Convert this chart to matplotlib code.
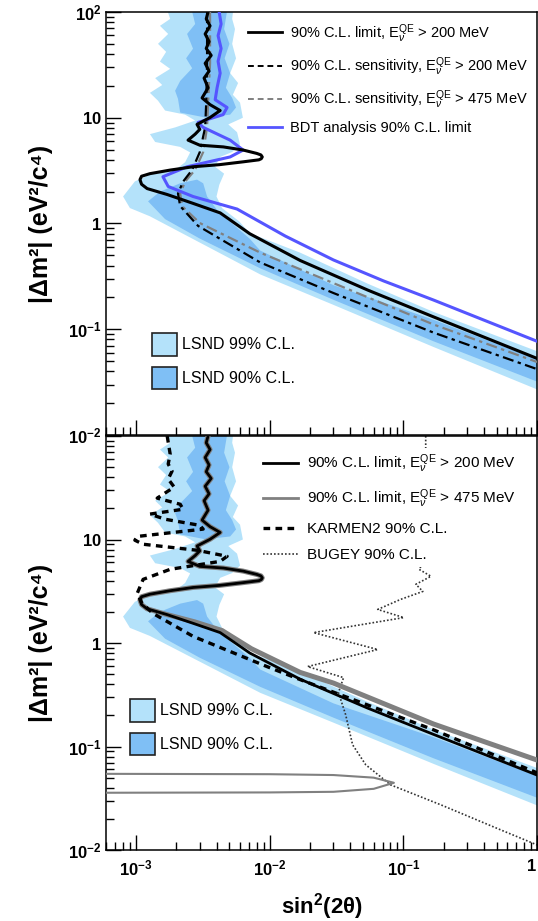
import matplotlib.pyplot as plt
from matplotlib import font_manager
from matplotlib.patches import Patch
from matplotlib.lines import Line2D
from matplotlib.ticker import FixedLocator, FuncFormatter, LogLocator, NullFormatter

plt.rcParams['font.family'] = ['Liberation Sans', 'DejaVu Sans']
plt.rcParams['mathtext.fontset'] = 'custom'
plt.rcParams['mathtext.rm'] = 'Liberation Sans'
plt.rcParams['mathtext.it'] = 'Liberation Sans:italic'
plt.rcParams['mathtext.bf'] = 'Liberation Sans:bold'

# narrow face for the tall axis titles, if the system has it
try:
    font_manager.findfont('Liberation Sans Narrow', fallback_to_default=False)
    ylab_family, ylab_size = ['Liberation Sans Narrow', 'DejaVu Sans'], 20
except ValueError:
    ylab_family, ylab_size = ['Liberation Sans', 'DejaVu Sans'], 18

# ---- LSND allowed regions (sin^2 2theta, dm^2) ----
lsnd99_x = [1.65e-3, 1.80e-3, 1.51e-3, 1.74e-3, 1.46e-3, 1.68e-3, 1.51e-3, 1.80e-3, 1.39e-3,
            1.57e-3, 1.27e-3, 1.46e-3, 1.65e-3, 2.33e-3, 2.77e-3, 1.96e-3, 1.27e-3, 1.39e-3,
            2.14e-3, 2.54e-3, 2.33e-3, 1.96e-3, 1.27e-3, 9.8e-4, 8.0e-4, 9.0e-4, 1.27e-3,
            3.0e-3, 8.5e-3, 0.030, 0.168, 1.0, 1.0, 0.168, 0.054, 0.0169, 7.1e-3, 5.9e-3,
            4.4e-3, 4.0e-3, 4.2e-3, 4.56e-3, 3.9e-3, 4.26e-3, 5.24e-3, 6.0e-3, 5.7e-3, 4.9e-3,
            6.3e-3, 6.0e-3, 5.3e-3, 5.8e-3, 5.06e-3, 5.6e-3, 5.24e-3, 5.5e-3, 5.24e-3, 5.4e-3]
lsnd99_y = [120, 86, 74, 62, 50, 42, 34, 29, 23.7,
            20.4, 17.2, 14.5, 11.7, 10.7, 9.4, 8.1, 7.0, 5.9,
            5.3, 4.7, 3.8, 3.2, 2.9, 2.5, 1.8, 1.4, 1.17,
            0.66, 0.33, 0.17, 0.068, 0.027, 0.062, 0.146, 0.27, 0.53, 0.81, 1.05,
            1.40, 1.8, 2.33, 2.96, 3.44, 4.26, 4.74, 5.6, 7.3, 8.65,
            10.0, 13.9, 16.5, 21.3, 26.4, 36.5, 50, 69, 86, 120]

lsnd90_hi_x = [2.54e-3, 2.77e-3, 2.41e-3, 2.67e-3, 2.37e-3, 2.63e-3, 2.14e-3, 1.96e-3, 2.06e-3,
               2.14e-3, 3.3e-3, 5.06e-3, 5.6e-3, 5.24e-3, 4.7e-3, 5.06e-3, 4.6e-3, 5.0e-3,
               4.56e-3, 4.9e-3]
lsnd90_hi_y = [120, 77, 62, 45, 36.5, 29.4, 22.3, 18.0, 15.1,
               11.2, 10.05, 10.7, 12.5, 15.4, 19.2, 26.4, 36.5, 50,
               69, 120]

lsnd90_lo_x = [1.23e-3, 1.51e-3, 2.14e-3, 2.86e-3, 3.18e-3, 3.4e-3, 4.1e-3, 7.1e-3, 8.5e-3,
               0.030, 0.168, 1.0, 1.0, 0.168, 0.030, 8.5e-3, 3.0e-3, 1.65e-3]
lsnd90_lo_y = [1.62, 2.0, 2.4, 2.6, 2.4, 1.8, 1.31, 0.716, 0.554,
               0.261, 0.123, 0.052, 0.032, 0.077, 0.19, 0.377, 0.72, 1.10]

# ---- MiniBooNE curves ----
limit200_x = [3.46e-3, 3.35e-3, 3.58e-3, 3.29e-3, 3.52e-3, 3.35e-3, 3.65e-3, 3.29e-3, 3.52e-3,
              3.23e-3, 3.46e-3, 3.12e-3, 3.58e-3, 4.26e-3, 3.58e-3, 2.86e-3, 3.0e-3, 2.77e-3,
              2.45e-3, 3.0e-3, 4.5e-3, 6.33e-3, 8.0e-3, 8.6e-3, 8.8e-3, 8.65e-3, 8.3e-3,
              6.33e-3, 4.2e-3, 2.67e-3, 1.8e-3, 1.27e-3, 1.1e-3, 1.07e-3, 1.1e-3, 1.21e-3,
              1.71e-3, 2.67e-3, 4.26e-3, 7.1e-3, 0.0169, 0.054, 0.168, 1.0]
limit200_y = [100, 86, 74, 62, 52.5, 45.2, 38.9, 32.7, 27.6,
              23.7, 19.2, 15.4, 13.3, 11.7, 10.05, 8.65, 7.77, 7.0,
              6.14, 5.5, 5.3, 4.95, 4.6, 4.45, 4.26, 4.1, 4.0,
              3.83, 3.6, 3.44, 3.2, 2.96, 2.8, 2.6, 2.35, 2.14,
              1.88, 1.55, 1.26, 0.80, 0.447, 0.235, 0.131, 0.053]

sens200_x = [3.40e-3, 3.40e-3, 3.35e-3, 3.29e-3, 3.0e-3, 2.63e-3, 2.25e-3, 2.06e-3, 2.14e-3,
             2.91e-3, 8.5e-3, 0.030, 0.168, 1.0]
sens200_y = [100, 32.7, 13.9, 8.11, 4.74, 3.22, 2.49, 1.92, 1.46,
             0.95, 0.428, 0.22, 0.093, 0.042]

sens475_x = [3.58e-3, 3.58e-3, 3.46e-3, 3.40e-3, 3.18e-3, 2.77e-3, 2.33e-3, 2.14e-3, 2.21e-3,
             3.0e-3, 8.5e-3, 0.030, 0.168, 1.0]
sens475_y = [100, 32.7, 13.9, 8.11, 4.74, 3.22, 2.49, 1.92, 1.46,
             1.01, 0.53, 0.273, 0.111, 0.049]

bdt_x = [4.19e-3, 4.33e-3, 4.11e-3, 4.33e-3, 4.11e-3, 4.26e-3, 4.04e-3, 3.91e-3, 4.8e-3,
         4.48e-3, 2.91e-3, 3.18e-3, 5.06e-3, 6.33e-3, 5.06e-3, 2.41e-3, 1.59e-3, 1.74e-3,
         2.67e-3, 5.7e-3, 0.0131, 0.030, 0.0713, 0.168, 1.0]
bdt_y = [100, 77, 59.7, 45.2, 34.2, 26.4, 19.2, 14.8, 12.5,
         10.7, 9.03, 8.11, 6.14, 4.95, 4.26, 3.44, 2.77, 2.24,
         1.80, 1.37, 0.76, 0.452, 0.286, 0.189, 0.077]

# E > 475 MeV limit: follows the 200 MeV limit above ~2 eV^2
limit475_x = limit200_x[:37] + [2.75e-3, 4.4e-3, 7.3e-3, 0.0169, 0.030, 0.168, 1.0]
limit475_y = limit200_y[:37] + [1.60, 1.32, 0.88, 0.52, 0.41, 0.165, 0.074]
island475_x = [4e-4, 0.010, 0.030, 0.060, 0.085, 0.060, 0.030, 0.010, 4e-4]
island475_y = [0.0545, 0.054, 0.053, 0.050, 0.0446, 0.039, 0.0365, 0.036, 0.0357]

# ---- other experiments ----
karmen_x = [1.71e-3, 1.80e-3, 1.74e-3, 1.86e-3, 1.74e-3, 1.93e-3, 1.44e-3, 2.14e-3, 2.25e-3,
            1.27e-3, 1.65e-3, 3.0e-3, 3.18e-3, 1.02e-3, 9.8e-4, 1.13e-3, 2.86e-3, 4.8e-3,
            4.26e-3, 1.80e-3, 1.13e-3, 1.02e-3, 1.11e-3, 1.34e-3, 2.67e-3, 9.6e-3, 0.0169,
            0.168, 1.0]
karmen_y = [100, 67, 53.6, 45.8, 38.4, 32.1, 25.1, 21.9, 19.6,
            17.6, 15.7, 13.7, 12.6, 10.7, 9.84, 9.0, 7.87, 6.88,
            6.15, 5.15, 4.12, 3.01, 2.41, 1.93, 1.16, 0.59, 0.443,
            0.145, 0.0557]

bugey_x = [0.147, 0.147, 0.131, 0.161, 0.124, 0.140, 0.0955, 0.0643, 0.1007, 0.0213,
           0.0643, 0.0192, 0.0357, 0.0327, 0.037, 0.0417, 0.0523, 0.0803, 0.191, 0.538, 1.0]
bugey_y = [100, 6.44, 5.15, 4.41, 3.69, 3.15, 2.64, 2.11, 1.76, 1.26,
           0.865, 0.592, 0.463, 0.332, 0.203, 0.104, 0.0666, 0.0426, 0.0273, 0.0156, 0.0112]

light_blue = '#b4e2fa'
mid_blue = '#7fbff5'
bdt_blue = '#5555ff'
grey = '#808080'

E_lab = r'$\mathrm{E}_{\nu}^{\mathrm{QE}}$'
ylab_text = '|\u0394m\u00b2| (eV\u00b2/c\u2074)'


def tick_label(v, pos):
    if v >= 100:
        return r'$\mathbf{10^2}$'
    if v >= 10:
        return r'$\mathbf{10}$'
    if v >= 1:
        return r'$\mathbf{1}$'
    if v >= 0.1:
        return r'$\mathbf{10^{-1}}$'
    if v >= 0.01:
        return r'$\mathbf{10^{-2}}$'
    return r'$\mathbf{10^{-3}}$'


def style_axes(ax):
    ax.set_xscale('log')
    ax.set_yscale('log')
    ax.set_xlim(5.96e-4, 1.0)
    ax.set_ylim(0.01, 100)
    ax.xaxis.set_major_locator(FixedLocator([1e-3, 1e-2, 1e-1, 1.0]))
    ax.xaxis.set_minor_locator(LogLocator(base=10, subs=range(2, 10)))
    ax.yaxis.set_major_locator(FixedLocator([0.01, 0.1, 1, 10, 100]))
    ax.yaxis.set_minor_locator(LogLocator(base=10, subs=range(2, 10)))
    ax.xaxis.set_minor_formatter(NullFormatter())
    ax.yaxis.set_minor_formatter(NullFormatter())
    ax.tick_params(which='both', direction='in', top=False, right=False, width=1.0)
    ax.tick_params(which='major', length=11, labelsize=12, pad=3)
    ax.tick_params(which='minor', length=6)
    for s in ax.spines.values():
        s.set_linewidth(1.1)


def draw_lsnd(ax):
    ax.fill(lsnd99_x, lsnd99_y, color=light_blue, lw=0, zorder=1)
    ax.fill(lsnd90_hi_x, lsnd90_hi_y, color=mid_blue, lw=0, zorder=1.1)
    ax.fill(lsnd90_lo_x, lsnd90_lo_y, color=mid_blue, lw=0, zorder=1.1)


def lsnd_legend(ax, anchor):
    handles = [Patch(facecolor=light_blue, edgecolor='#222222', lw=1.2),
               Patch(facecolor=mid_blue, edgecolor='#222222', lw=1.2)]
    leg = ax.legend(handles, ['LSND 99% C.L.', 'LSND 90% C.L.'], loc='upper left',
                    bbox_to_anchor=anchor, bbox_transform=fig.transFigure,
                    frameon=False, fontsize=11.5, handlelength=1.55, handleheight=1.8,
                    handletextpad=0.3, labelspacing=0.7, borderpad=0, borderaxespad=0)
    return leg


fig = plt.figure(figsize=(5.38, 9.21), dpi=100)
ax1 = fig.add_axes([106 / 538, 1 - 435 / 921, 431 / 538, 423 / 921])
ax2 = fig.add_axes([106 / 538, 1 - 850 / 921, 431 / 538, 414 / 921])

# ---------------- top panel ----------------
style_axes(ax1)
draw_lsnd(ax1)
dashdot = (0, (5, 2, 1.5, 2))
ax1.plot(sens475_x, sens475_y, color=grey, lw=1.6, ls=dashdot, zorder=3)
ax1.plot(sens200_x, sens200_y, color='black', lw=1.6, ls=dashdot, zorder=3)
ax1.plot(bdt_x, bdt_y, color=bdt_blue, lw=2.2, zorder=4)
ax1.plot(limit200_x, limit200_y, color='black', lw=2.2, zorder=5)
ax1.tick_params(axis='x', labelbottom=False)
ax1.yaxis.set_major_formatter(FuncFormatter(tick_label))

h1 = [Line2D([], [], color='black', lw=2),
      Line2D([], [], color='black', lw=1.4, ls=(0, (3, 2))),
      Line2D([], [], color=grey, lw=1.4, ls=(0, (3, 2))),
      Line2D([], [], color=bdt_blue, lw=2)]
l1 = ['90% C.L. limit, ' + E_lab + ' > 200 MeV',
      '90% C.L. sensitivity, ' + E_lab + ' > 200 MeV',
      '90% C.L. sensitivity, ' + E_lab + ' > 475 MeV',
      'BDT analysis 90% C.L. limit']
leg1 = ax1.legend(h1, l1, loc='upper left', bbox_to_anchor=(248 / 538, 1 - 22 / 921),
                  bbox_transform=fig.transFigure, frameon=False, fontsize=10.5,
                  handlelength=2.3, handletextpad=0.6, labelspacing=0.72,
                  borderpad=0, borderaxespad=0)
ax1.add_artist(leg1)
lsnd_legend(ax1, (152 / 538, 1 - 333 / 921))
ax1.set_ylabel(ylab_text, family=ylab_family, fontsize=ylab_size, fontweight='bold')
ax1.yaxis.set_label_coords(-0.122, 0.5)

# ---------------- bottom panel ----------------
style_axes(ax2)
draw_lsnd(ax2)
ax2.plot(bugey_x, bugey_y, color='#333333', lw=1.2, ls=(0, (1, 1.2)), zorder=2)
ax2.plot(island475_x, island475_y, color=grey, lw=1.5, zorder=3)
ax2.plot(limit475_x, limit475_y, color=grey, lw=3.6, zorder=3)
ax2.plot(karmen_x, karmen_y, color='black', lw=2.4, ls=(0, (2, 1.6)), zorder=4)
ax2.plot(limit200_x, limit200_y, color='black', lw=2.0, zorder=5)
ax2.xaxis.set_major_formatter(FuncFormatter(tick_label))
ax2.yaxis.set_major_formatter(FuncFormatter(
    lambda v, p: '' if v >= 100 else tick_label(v, p)))
ax2.tick_params(axis='x', pad=6)
ax2.get_xticklabels()[-1].set_horizontalalignment('right')

h2 = [Line2D([], [], color='black', lw=2),
      Line2D([], [], color=grey, lw=2),
      Line2D([], [], color='black', lw=2.4, ls=(0, (2, 1.6))),
      Line2D([], [], color='#333333', lw=1.2, ls=(0, (1, 1.2)))]
l2 = ['90% C.L. limit, ' + E_lab + ' > 200 MeV',
      '90% C.L. limit, ' + E_lab + ' > 475 MeV',
      'KARMEN2 90% C.L.',
      'BUGEY 90% C.L.']
leg2 = ax2.legend(h2, l2, loc='upper left', bbox_to_anchor=(258 / 538, 1 - 448 / 921),
                  bbox_transform=fig.transFigure, frameon=True, facecolor='white',
                  edgecolor='none', framealpha=1, fancybox=False, fontsize=11,
                  handlelength=2.3, handletextpad=0.6, labelspacing=0.8,
                  borderpad=0.3, borderaxespad=0)
leg2.set_zorder(6)
ax2.add_artist(leg2)
lsnd_legend(ax2, (130 / 538, 1 - 699 / 921))
ax2.set_ylabel(ylab_text, family=ylab_family, fontsize=ylab_size, fontweight='bold')
ax2.yaxis.set_label_coords(-0.122, 0.5)
ax2.set_xlabel(r'$\mathbf{sin^2(2\theta)}$', fontsize=16)
ax2.xaxis.set_label_coords(0.5, -0.1)

fig.savefig('out.png', dpi=100)
